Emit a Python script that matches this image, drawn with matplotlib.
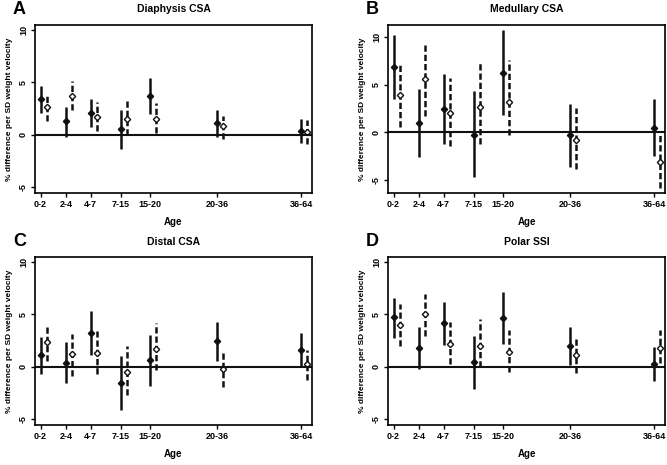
import numpy as np
import matplotlib
matplotlib.use("Agg")
import matplotlib.pyplot as plt

plt.rcParams['font.family'] = ['Liberation Sans', 'DejaVu Sans']

ages = ["0-2", "2-4", "4-7", "7-15", "15-20", "20-36", "36-64"]
age_pos = [0, 1, 1.97, 3.16, 4.32, 6.95, 10.26]
offset = 0.24

titles = ["Diaphysis CSA", "Medullary CSA", "Distal CSA", "Polar SSI"]
letters = ["A", "B", "C", "D"]

# solid series (filled diamonds): estimate, lower, upper
a_est = [3.4, 1.26, 2.08, 0.5, 3.72, 1.14, 0.35]
a_lo = [2.08, -0.19, 0.69, -1.32, 2.02, -0.19, -0.82]
a_hi = [4.67, 2.65, 3.4, 2.33, 5.39, 2.4, 1.48]
a2_est = [2.65, 3.72, 1.67, 1.51, 1.51, 0.82, 0.22]
a2_lo = [1.26, 2.33, 0.35, 0.0, 0.13, -0.38, -0.88]
a2_hi = [3.91, 5.08, 3.12, 3.4, 3.03, 1.83, 1.39]

b_est = [6.88, 0.95, 2.42, -0.28, 6.21, -0.32, 0.46]
b_lo = [3.47, -2.63, -1.23, -4.74, 1.79, -3.61, -2.46]
b_hi = [10.28, 4.6, 6.14, 4.35, 10.8, 3.02, 3.47]
b2_est = [3.89, 5.61, 2.04, 2.67, 3.19, -0.81, -3.16]
b2_lo = [0.56, 1.72, -1.4, -1.23, -0.32, -3.82, -5.89]
b2_hi = [7.05, 9.44, 5.72, 7.4, 7.58, 2.53, -0.28]

c_est = [1.07, 0.38, 3.21, -1.57, 0.63, 2.42, 1.64]
c_lo = [-0.72, -1.57, 1.1, -4.15, -1.86, 0.57, 0.0]
c_hi = [2.8, 2.36, 5.35, 1.0, 3.05, 4.25, 3.24]
c2_est = [2.39, 1.23, 1.35, -0.5, 1.73, -0.22, 0.28]
c2_lo = [0.57, -0.88, -0.72, -2.67, -0.35, -1.92, -1.26]
c2_hi = [4.0, 3.14, 3.4, 1.95, 4.18, 1.54, 1.57]

d_est = [4.7, 1.8, 4.16, 0.41, 4.64, 1.99, 0.28]
d_lo = [2.74, -0.19, 2.11, -2.11, 2.21, 0.16, -1.32]
d_hi = [6.59, 3.75, 6.15, 2.9, 7.07, 3.79, 1.86]
d2_est = [4.0, 5.02, 2.21, 2.02, 1.42, 1.1, 1.8]
d2_lo = [2.02, 2.97, 0.28, 0.0, -0.47, -0.63, 0.32]
d2_hi = [5.96, 6.97, 4.23, 4.57, 3.53, 2.84, 3.47]

panels = [
    (a_est, a_lo, a_hi, a2_est, a2_lo, a2_hi, (-5.55, 10.45)),
    (b_est, b_lo, b_hi, b2_est, b2_lo, b2_hi, (-6.4, 11.3)),
    (c_est, c_lo, c_hi, c2_est, c2_lo, c2_hi, (-5.55, 10.45)),
    (d_est, d_lo, d_hi, d2_est, d2_lo, d2_hi, (-5.55, 10.45)),
]

W, H = 667, 465
fig = plt.figure(figsize=(W/100, H/100), dpi=100)
boxes = [(35, 25), (388, 25), (35, 257), (388, 257)]
aw, ah = 277, 168

col = "#111111"
for i, (box, p) in enumerate(zip(boxes, panels)):
    x0, y0 = box
    ax = fig.add_axes([x0/W, 1 - (y0+ah)/H, aw/W, ah/H])
    est, lo, hi, est2, lo2, hi2, ylim = p
    xs = np.array(age_pos)
    ax.vlines(xs, lo, hi, color=col, lw=1.8)
    ax.plot(xs, est, ls="none", marker="D", ms=3.2, color=col)
    ax.vlines(xs + offset, lo2, hi2, color=col, lw=1.8, linestyles=(0, (2.5, 1.2)))
    ax.plot(xs + offset, est2, ls="none", marker="D", ms=3.2, mfc="white", mec=col, mew=1.0)
    ax.axhline(0, color=col, lw=1.5)
    ax.set_xlim(-0.22, 10.69)
    ax.set_ylim(*ylim)
    ax.set_xticks(age_pos)
    ax.set_xticklabels(ages, fontsize=6.5, fontweight="bold")
    ax.set_yticks([-5, 0, 5, 10])
    ax.set_yticklabels(["-5", "0", "5", "10"], fontsize=6.5, fontweight="bold",
                       rotation=90, va="center")
    ax.tick_params(length=3, width=1, pad=2)
    for s in ax.spines.values():
        s.set_linewidth(1.2)
    ax.set_xlabel("Age", fontsize=7, fontweight="bold", labelpad=6)
    ax.set_ylabel("% difference per SD weight velocity", fontsize=6,
                  fontweight="bold", labelpad=4)
    ax.set_title(titles[i], fontsize=7.5, fontweight="bold", pad=9)
    fig.text((x0 - 22)/W, 1 - (y0 - 16)/H, letters[i], fontsize=13,
             fontweight="bold", va="center", ha="left")

fig.savefig("out.png", dpi=100)
